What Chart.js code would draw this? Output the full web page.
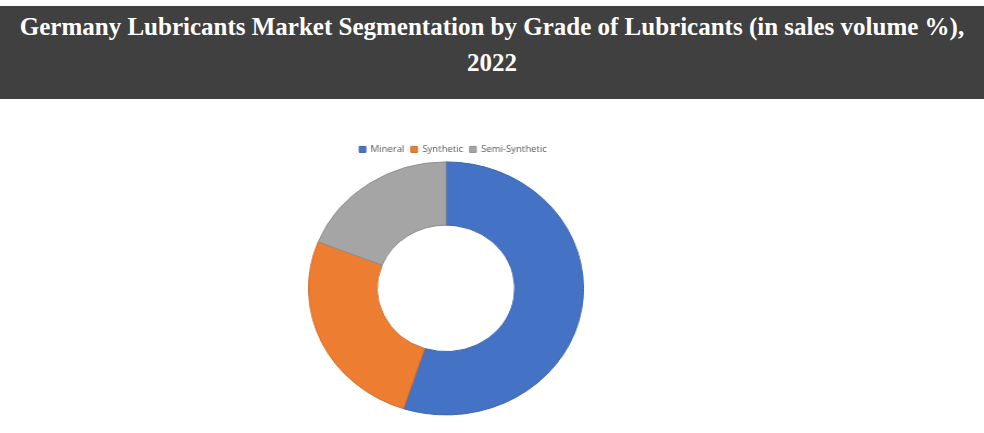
<!DOCTYPE html>
<html>
<head>
<meta charset="utf-8">
<script src="https://cdn.jsdelivr.net/npm/chart.js@4.4.1/dist/chart.umd.min.js"></script>
<style>
  html, body { margin: 0; padding: 0; background: #fff; width: 984px; height: 433px; overflow: hidden; }
  #banner {
    position: absolute; left: 0; top: 6px; width: 984px; height: 93px;
    background: #404040; color: #fff;
    font-family: "Liberation Serif", serif; font-weight: bold; font-size: 25px;
    line-height: 36px; text-align: center; padding-top: 3px; box-sizing: border-box;
    white-space: nowrap;
  }
  #wrap {
    position: absolute; left: 308px; top: 136px; width: 270px; height: 280px;
    transform: scaleX(1.0866); transform-origin: 0 0;
  }
</style>
</head>
<body>
<div id="banner">Germany Lubricants Market Segmentation by Grade of Lubricants (in sales volume %),<br>2022</div>
<div id="wrap"><canvas id="chart" width="270" height="280"></canvas></div>
<script>
const categories = ["Mineral", "Synthetic", "Semi-Synthetic"];
const shares = [55, 26, 19];
const fillColors = ["#4472C4", "#ED7D31", "#A5A5A5"];
const edgeColors = ["#3B64AE", "#D06C29", "#8F8F8F"];

// nudge the legend a bit right/down, like the original sheet
const legendNudge = {
  id: "legendNudge",
  afterLayout(chart) {
    const lg = chart.legend;
    lg.left += 6.5; lg.right += 6.5;
    lg.top += 3; lg.bottom += 3;
  }
};

new Chart(document.getElementById("chart"), {
  type: "doughnut",
  data: {
    labels: categories,
    datasets: [{
      data: shares,
      backgroundColor: fillColors,
      borderColor: edgeColors,
      borderWidth: 1
    }]
  },
  options: {
    responsive: false,
    animation: false,
    cutout: "50%",
    layout: { padding: { left: 0, right: 16, top: 0, bottom: 0 } },
    plugins: {
      legend: {
        position: "top",
        labels: {
          boxWidth: 6,
          boxHeight: 6,
          padding: 6,
          color: "#595959",
          font: { family: "Open Sans", size: 8.8 }
        }
      },
      tooltip: { enabled: false }
    }
  },
  plugins: [legendNudge]
});
</script>
</body>
</html>
